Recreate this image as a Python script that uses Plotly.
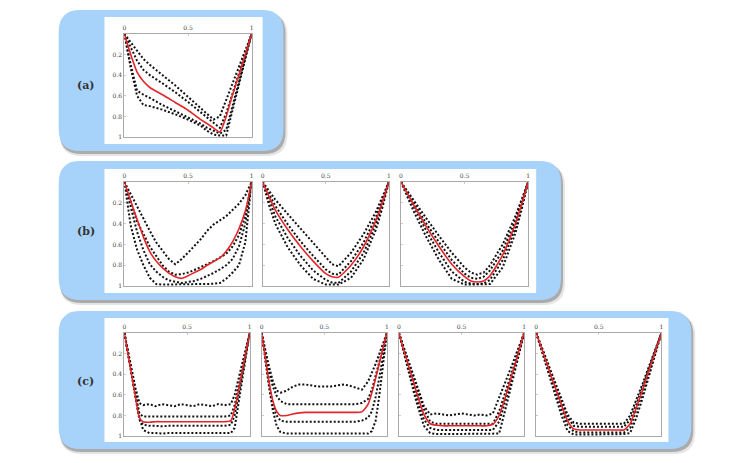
import plotly.graph_objects as go

W, H = 750, 463

# ---------------- data ----------------
# panel (a)
A_X = [0, .05, .1, .15, .2, .3, .4, .5, .6, .65, .7, .75, .8, .85, .9, .95, 1]
A_Q1 = [0, .08, .16, .245, .30, .40, .50, .61, .72, .775, .83, .80, .64, .48, .32, .16, 0]
A_Q2 = [0, .13, .26, .35, .40, .48, .565, .66, .76, .81, .86, .91, .77, .575, .385, .19, 0]
A_RED = [0, .20, .37, .46, .52, .59, .665, .74, .83, .87, .91, .95, .80, .59, .40, .20, 0]
A_Q3 = [0, .30, .55, .59, .62, .69, .75, .81, .87, .91, .94, .965, .93, .70, .47, .23, 0]
A_Q4 = [0, .33, .60, .69, .70, .735, .78, .83, .89, .94, .975, .985, .985, .74, .49, .245, 0]

# panel (b) 1
B1_X = [0, .05, .1, .15, .2, .25, .3, .35, .4, .45, .5, .55, .6, .65, .7, .75, .8, .85, .9, .95, 1]
B1_Q1 = [0, .12, .245, .36, .47, .58, .66, .74, .79, .74, .68, .615, .55, .47, .41, .37, .33, .27, .21, .13, 0]
B1_Q2 = [0, .20, .38, .50, .62, .71, .80, .86, .89, .885, .87, .845, .82, .79, .76, .725, .69, .62, .51, .33, 0]
B1_RED = [0, .185, .36, .53, .67, .76, .825, .875, .91, .925, .90, .87, .84, .80, .765, .73, .665, .575, .45, .28, 0]
B1_Q3 = [0, .25, .48, .655, .79, .86, .91, .945, .96, .97, .96, .95, .93, .905, .875, .84, .80, .74, .62, .40, 0]
B1_Q4 = [0, .42, .65, .80, .92, .98, .985, .985, .985, .985, .985, .985, .985, .98, .978, .97, .93, .87, .80, .58, 0]

# panel (b) 2
B2_X = [0, .05, .1, .2, .3, .4, .5, .55, .6, .7, .8, .9, .95, 1]
B2_Q1 = [0, .09, .17, .31, .45, .59, .73, .79, .81, .68, .50, .28, .14, 0]
B2_Q2 = [0, .12, .23, .41, .57, .71, .84, .88, .89, .76, .58, .33, .17, 0]
B2_RED = [0, .14, .27, .46, .62, .76, .88, .91, .915, .80, .62, .36, .19, 0]
B2_Q3 = [0, .17, .33, .54, .71, .85, .94, .965, .97, .86, .68, .40, .21, 0]
B2_Q4 = [0, .22, .40, .63, .80, .93, .985, .985, .985, .92, .74, .45, .24, 0]

# panel (b) 3
B3_X = [0, .05, .1, .2, .3, .4, .5, .55, .6, .65, .7, .8, .9, .95, 1]
B3_Q1 = [0, .09, .18, .35, .52, .68, .82, .87, .89, .87, .80, .60, .33, .17, 0]
B3_Q2 = [0, .10, .20, .40, .58, .75, .88, .92, .93, .91, .85, .66, .37, .19, 0]
B3_RED = [0, .11, .22, .43, .62, .79, .91, .95, .96, .95, .90, .70, .40, .21, 0]
B3_Q3 = [0, .12, .24, .47, .68, .86, .96, .975, .98, .975, .94, .75, .44, .23, 0]
B3_Q4 = [0, .14, .28, .53, .75, .93, .985, .985, .985, .985, .98, .82, .49, .26, 0]

# panels (c)
C_X = [0, .03, .06, .09, .12, .15, .2, .25, .3, .35, .4, .45, .5, .55, .6, .65, .7, .75, .8, .85, .88, .91, .94, .97, 1]

C1_Q1 = [0, .18, .36, .54, .68, .70, .69, .71, .69, .70, .71, .69, .70, .71, .69, .70, .71, .69, .70, .69, .60, .45, .30, .15, 0]
C1_Q2 = [0, .20, .40, .60, .78, .81, .81, .81, .81, .81, .81, .81, .81, .81, .81, .81, .81, .81, .81, .80, .70, .53, .35, .18, 0]
C1_RED = [0, .21, .42, .63, .82, .86, .865, .86, .86, .86, .86, .86, .86, .86, .86, .86, .86, .86, .86, .85, .74, .56, .37, .19, 0]
C1_Q3 = [0, .21, .43, .64, .84, .89, .90, .90, .905, .90, .90, .90, .90, .90, .905, .90, .90, .90, .90, .89, .80, .61, .41, .21, 0]
C1_Q4 = [0, .20, .41, .62, .82, .94, .97, .97, .975, .97, .97, .975, .97, .97, .97, .975, .97, .97, .97, .97, .92, .70, .47, .24, 0]

C2_Q1 = [0, .17, .33, .47, .56, .58, .56, .52, .50, .50, .51, .52, .52, .52, .51, .50, .51, .53, .55, .47, .39, .30, .20, .10, 0]
C2_Q2 = [0, .20, .38, .52, .61, .66, .69, .69, .69, .69, .69, .69, .69, .69, .69, .69, .69, .69, .68, .64, .55, .42, .28, .14, 0]
C2_RED = [0, .24, .48, .66, .76, .80, .80, .785, .775, .77, .77, .77, .77, .77, .77, .77, .77, .77, .765, .69, .58, .44, .29, .14, 0]
C2_Q3 = [0, .26, .50, .70, .80, .85, .86, .86, .86, .86, .86, .86, .86, .86, .86, .86, .86, .86, .85, .82, .76, .62, .43, .22, 0]
C2_Q4 = [0, .27, .53, .75, .90, .96, .975, .975, .975, .975, .975, .975, .975, .975, .975, .975, .975, .975, .975, .975, .95, .85, .60, .30, 0]

C3_Q1 = [0, .11, .21, .32, .43, .53, .71, .79, .78, .79, .80, .79, .78, .79, .80, .79, .80, .78, .63, .48, .39, .29, .19, .09, 0]
C3_Q2 = [0, .12, .23, .34, .45, .56, .74, .86, .88, .88, .88, .88, .88, .88, .88, .88, .88, .88, .76, .58, .47, .35, .23, .12, 0]
C3_RED = [0, .13, .25, .37, .49, .61, .79, .88, .895, .90, .90, .90, .90, .90, .90, .90, .90, .885, .80, .62, .50, .37, .25, .12, 0]
C3_Q3 = [0, .14, .27, .40, .53, .66, .84, .92, .94, .94, .94, .94, .94, .94, .94, .94, .94, .94, .86, .67, .54, .40, .27, .13, 0]
C3_Q4 = [0, .15, .30, .44, .58, .71, .90, .97, .98, .98, .98, .98, .98, .98, .98, .98, .98, .98, .975, .74, .60, .45, .30, .15, 0]

C4_Q1 = [0, .09, .19, .28, .38, .47, .63, .79, .87, .88, .88, .88, .88, .88, .88, .88, .88, .80, .65, .49, .39, .29, .19, .10, 0]
C4_Q2 = [0, .10, .20, .30, .40, .50, .66, .82, .90, .91, .91, .91, .91, .91, .91, .91, .91, .84, .69, .52, .42, .31, .21, .10, 0]
C4_RED = [0, .10, .21, .31, .42, .52, .69, .85, .93, .94, .94, .94, .94, .94, .94, .94, .94, .88, .72, .55, .44, .33, .22, .11, 0]
C4_Q3 = [0, .11, .22, .33, .44, .55, .73, .89, .955, .965, .965, .965, .965, .965, .965, .965, .965, .92, .76, .58, .47, .35, .23, .12, 0]
C4_Q4 = [0, .12, .24, .36, .48, .60, .79, .95, .985, .985, .985, .985, .985, .985, .985, .985, .98, .97, .82, .63, .50, .38, .25, .13, 0]

X_TICKS = [0, 0.5, 1]
X_TICKTEXT = ["0", "0.5", "1"]
Y_TICKS = [0.2, 0.4, 0.6, 0.8, 1]
Y_TICKTEXT = ["0.2", "0.4", "0.6", "0.8", "1"]
PANEL_LABELS = ["(a)", "(b)", "(c)"]

# ---------------- layout helpers ----------------
def X(px):
    return px / W

def Y(py):
    return 1 - py / H

def rr_path(x0, y0, x1, y1, r):
    return (f"M {X(x0+r)},{Y(y0)} L {X(x1-r)},{Y(y0)} Q {X(x1)},{Y(y0)} {X(x1)},{Y(y0+r)} "
            f"L {X(x1)},{Y(y1-r)} Q {X(x1)},{Y(y1)} {X(x1-r)},{Y(y1)} "
            f"L {X(x0+r)},{Y(y1)} Q {X(x0)},{Y(y1)} {X(x0)},{Y(y1-r)} "
            f"L {X(x0)},{Y(y0+r)} Q {X(x0)},{Y(y0)} {X(x0+r)},{Y(y0)} Z")

# panels: (x_data, [quantile curves], red curve, x-domain px, y-domain px, show y labels)
panels = [
    (A_X, [A_Q1, A_Q2, A_Q3, A_Q4], A_RED, (123, 251), (34, 138), True),
    (B1_X, [B1_Q1, B1_Q2, B1_Q3, B1_Q4], B1_RED, (123, 251), (183, 288), True),
    (B2_X, [B2_Q1, B2_Q2, B2_Q3, B2_Q4], B2_RED, (262, 389), (183, 288), False),
    (B3_X, [B3_Q1, B3_Q2, B3_Q3, B3_Q4], B3_RED, (401, 529), (183, 288), False),
    (C_X, [C1_Q1, C1_Q2, C1_Q3, C1_Q4], C1_RED, (123, 249), (335, 439), True),
    (C_X, [C2_Q1, C2_Q2, C2_Q3, C2_Q4], C2_RED, (261, 387), (335, 439), False),
    (C_X, [C3_Q1, C3_Q2, C3_Q3, C3_Q4], C3_RED, (399, 525), (335, 439), False),
    (C_X, [C4_Q1, C4_Q2, C4_Q3, C4_Q4], C4_RED, (537, 663), (335, 439), False),
]

boxes = [  # blue box, white inner
    ((57, 10, 283, 152), (103, 17, 262, 145)),
    ((57, 162, 562, 302), (103, 170, 537, 295)),
    ((57, 313, 693, 452), (103, 320, 670, 445)),
]
label_pos = [(84, 86), (84, 233), (84, 384)]

fig = go.Figure()
layout = dict(
    width=W, height=H, margin=dict(l=0, r=0, t=0, b=0),
    paper_bgcolor="white", plot_bgcolor="rgba(0,0,0,0)",
    showlegend=False, shapes=[], annotations=[],
)

tickfont = dict(family="DejaVu Serif, Liberation Serif, serif", size=6, color="#444")

for i, (xs, qs, red, (xl, xr), (yt, yb), ylab) in enumerate(panels):
    n = "" if i == 0 else str(i + 1)
    xa, ya = "x" + n, "y" + n
    for q in qs:
        fig.add_trace(go.Scatter(x=xs, y=q, mode="lines", xaxis=xa, yaxis=ya,
                                 line=dict(color="#111", width=2, dash="2px,2px"),
                                 hoverinfo="skip"))
    fig.add_trace(go.Scatter(x=xs, y=red, mode="lines", xaxis=xa, yaxis=ya,
                             line=dict(color="#e3262a", width=1.6, shape="spline", smoothing=0.6),
                             hoverinfo="skip"))
    layout["xaxis" + n] = dict(domain=[X(xl), X(xr)], anchor=ya, range=[0, 1], side="top",
                               tickvals=X_TICKS, ticktext=X_TICKTEXT, tickfont=tickfont,
                               showgrid=False, zeroline=False, showline=True, mirror=True,
                               linecolor="#aaa", linewidth=1, ticks="inside", ticklen=2,
                               tickcolor="#ccc", fixedrange=True)
    layout["yaxis" + n] = dict(domain=[Y(yb), Y(yt)], anchor=xa, range=[1, 0],
                               tickvals=Y_TICKS, ticktext=Y_TICKTEXT, tickfont=tickfont,
                               showticklabels=ylab,
                               showgrid=False, zeroline=False, showline=True, mirror=True,
                               linecolor="#aaa", linewidth=1, ticks="inside", ticklen=2,
                               tickcolor="#ccc", fixedrange=True)

for (blue, white), lab, (lx, ly) in zip(boxes, PANEL_LABELS, label_pos):
    bx0, by0, bx1, by1 = blue
    # soft shadow
    layout["shapes"].append(dict(type="path", xref="paper", yref="paper", layer="below",
                                 path=rr_path(bx0 + 1, by0 + 3, bx1 + 4, by1 + 5, 22),
                                 fillcolor="rgba(0,0,0,0.10)", line=dict(width=0)))
    layout["shapes"].append(dict(type="path", xref="paper", yref="paper", layer="below",
                                 path=rr_path(bx0 + 1, by0 + 2, bx1 + 2, by1 + 3, 22),
                                 fillcolor="rgba(0,0,0,0.25)", line=dict(width=0)))
    layout["shapes"].append(dict(type="path", xref="paper", yref="paper", layer="below",
                                 path=rr_path(bx0, by0, bx1, by1, 22),
                                 fillcolor="#a7d3fb", line=dict(width=0)))
    wx0, wy0, wx1, wy1 = white
    layout["shapes"].append(dict(type="rect", xref="paper", yref="paper", layer="below",
                                 x0=X(wx0), x1=X(wx1), y0=Y(wy1), y1=Y(wy0),
                                 fillcolor="white", line=dict(width=0)))
    layout["annotations"].append(dict(x=X(lx), y=Y(ly), xref="paper", yref="paper",
                                      text=f"<b>{lab}</b>", showarrow=False,
                                      font=dict(family="DejaVu Serif, Liberation Serif, serif",
                                                size=11, color="#333"),
                                      xanchor="center", yanchor="middle"))

fig.update_layout(**layout)
fig.write_html("out.html")
